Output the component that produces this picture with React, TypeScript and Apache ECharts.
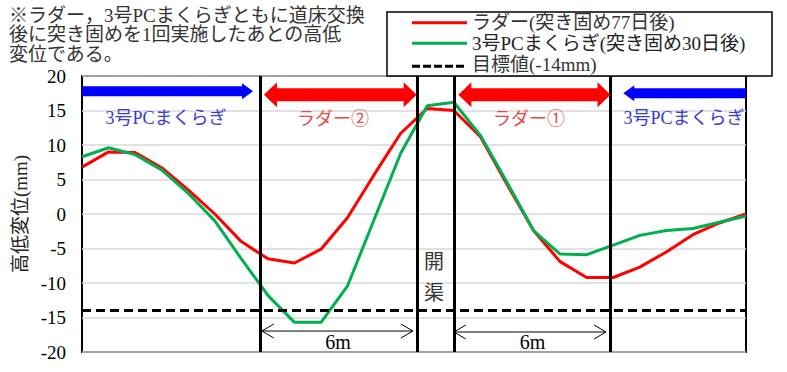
import React, { useEffect, useRef } from "react";
import * as echarts from "echarts";

// Measurement points (index along track), values in mm
const positions = [0, 1, 2, 3, 4, 5, 6, 7, 8, 9, 10, 11, 12, 13, 14, 15, 16, 17, 18, 19, 20, 21, 22, 23, 24, 25];
const ladderValues = [6.8, 9.0, 8.9, 6.7, 3.5, 0.0, -4.0, -6.5, -7.1, -5.1, -0.5, 5.7, 11.7, 15.3, 15.0, 11.2, 4.3, -2.4, -6.9, -9.2, -9.2, -7.7, -5.5, -3.0, -1.3, 0.0];
const pcValues = [8.3, 9.6, 8.6, 6.4, 3.0, -1.0, -6.5, -11.8, -15.7, -15.7, -10.4, -0.8, 8.8, 15.7, 16.2, 11.4, 4.6, -2.4, -5.8, -5.9, -4.5, -3.1, -2.4, -2.1, -1.2, -0.3];
const targetValue = -14;
const yTicks = { min: -20, max: 20, interval: 5 };
const dividerPositions = [6.7, 12.61, 14.01, 19.88];

const seriesNames = ["ラダー(突き固め77日後)", "3号PCまくらぎ(突き固め30日後)", "目標値(-14mm)"];
const yAxisName = "高低変位(mm)";
const noteLines = ["※ラダー，3号PCまくらぎともに道床交換", "後に突き固めを1回実施したあとの高低", "変位である。"];

const FONT = "'Liberation Serif', 'Noto Sans CJK JP', serif";
const RED = "#ff0000";
const GREEN = "#00b050";
const BLUE = "#0000ff";

export default function App() {
  const ref = useRef<HTMLDivElement>(null);
  useEffect(() => {
    const chart = echarts.init(ref.current!, null, { renderer: "svg" });
    const first = positions[0];
    const last = positions[positions.length - 1];
    chart.setOption({
      animation: false,
      grid: { left: 82, top: 76, right: 41, bottom: 20, show: true, borderColor: "#000", borderWidth: 2 },
      xAxis: { type: "value", min: first, max: last, show: false },
      yAxis: {
        type: "value",
        min: yTicks.min,
        max: yTicks.max,
        interval: yTicks.interval,
        axisLine: { show: false },
        axisTick: { show: false },
        axisLabel: { fontSize: 19, fontFamily: FONT, color: "#000", margin: 16 },
        splitLine: { lineStyle: { color: "#d9d9d9", width: 1.5 } },
        name: yAxisName,
        nameLocation: "middle",
        nameGap: 52,
        nameTextStyle: { fontSize: 19, fontFamily: FONT, color: "#222" },
      },
      series: [
        {
          name: seriesNames[0],
          type: "line",
          data: positions.map((p, i) => [p, ladderValues[i]]),
          symbol: "none",
          lineStyle: { color: RED, width: 3 },
          z: 3,
        },
        {
          name: seriesNames[1],
          type: "line",
          data: positions.map((p, i) => [p, pcValues[i]]),
          symbol: "none",
          lineStyle: { color: GREEN, width: 3 },
          z: 4,
        },
        {
          name: seriesNames[2],
          type: "line",
          data: [[first, targetValue], [last, targetValue]],
          symbol: "none",
          lineStyle: { color: "#000", width: 3, type: [9, 5] },
          z: 5,
          markLine: {
            silent: true,
            symbol: ["none", "none"],
            label: { show: false },
            lineStyle: { color: "#000", width: 3, type: "solid" },
            data: dividerPositions.map((x) => ({ xAxis: x })),
          },
        },
      ],
    });

    const P = (x: number, y: number) => chart.convertToPixel({ gridIndex: 0 }, [x, y]) as number[];
    const px = (x: number) => P(x, 0)[0];
    const py = (y: number) => P(0, y)[1];

    const arrowPoly = (x0: number, x1: number, yc: number, bodyH: number, headH: number, headL: number, leftHead: boolean, rightHead: boolean) => {
      const b = bodyH / 2;
      const h = headH / 2;
      const pts: number[][] = [];
      if (leftHead) {
        pts.push([x0, yc], [x0 + headL, yc - h], [x0 + headL, yc - b]);
      } else {
        pts.push([x0, yc - b]);
      }
      if (rightHead) {
        pts.push([x1 - headL, yc - b], [x1 - headL, yc - h], [x1, yc], [x1 - headL, yc + h], [x1 - headL, yc + b]);
      } else {
        pts.push([x1, yc - b], [x1, yc + b]);
      }
      if (leftHead) {
        pts.push([x0 + headL, yc + b], [x0 + headL, yc + h]);
      } else {
        pts.push([x0, yc + b]);
      }
      return pts;
    };

    const text = (t: string, x: number, y: number, size: number, color: string, align = "center") => ({
      type: "text",
      z: 100,
      style: { text: t, x, y, fontSize: size, fontFamily: FONT, fill: color, textAlign: align, textVerticalAlign: "middle" },
    });

    const dimArrow = (xa: number, xb: number, y: number) => {
      const x0 = px(xa), x1 = px(xb), yy = py(y);
      return [
        { type: "line", z: 100, shape: { x1: x0, y1: yy, x2: x1, y2: yy }, style: { stroke: "#000", lineWidth: 1 } },
        { type: "polyline", z: 100, shape: { points: [[x0 + 12, yy - 7], [x0, yy], [x0 + 12, yy + 7]] }, style: { stroke: "#000", lineWidth: 1, fill: null } },
        { type: "polyline", z: 100, shape: { points: [[x1 - 12, yy - 7], [x1, yy], [x1 - 12, yy + 7]] }, style: { stroke: "#000", lineWidth: 1, fill: null } },
      ];
    };

    const graphic: any[] = [
      // Arrows
      { type: "polygon", z: 90, shape: { points: arrowPoly(px(0), px(6.44), py(17.8), 10, 16, 11, false, true) }, style: { fill: BLUE } },
      { type: "polygon", z: 90, shape: { points: arrowPoly(px(6.85), px(12.6), py(17.3), 13, 25, 13, true, true) }, style: { fill: RED } },
      { type: "polygon", z: 90, shape: { points: arrowPoly(px(14.17), px(19.9), py(17.3), 13, 25, 13, true, true) }, style: { fill: RED } },
      { type: "polygon", z: 90, shape: { points: arrowPoly(px(20.38), px(25), py(17.5), 10, 16, 11, true, false) }, style: { fill: BLUE } },
      text("3号PCまくらぎ", px(3.16), py(13.9), 18, "#3a3ad6"),
      text("ラダー②", px(9.45), py(13.7), 18, "#e84848"),
      text("ラダー①", px(16.83), py(13.7), 18, "#e84848"),
      text("3号PCまくらぎ", px(22.67), py(13.9), 18, "#3a3ad6"),
      text("開", px(13.25), py(-6.96), 20, "#333"),
      text("渠", px(13.25), py(-11.45), 20, "#333"),
      ...dimArrow(6.77, 12.46, -16.96),
      ...dimArrow(14.0, 19.73, -17.1),
      text("6m", px(9.64), py(-18.6), 20, "#000"),
      text("6m", px(16.96), py(-18.6), 20, "#000"),
      // Note (three lines)
      text(noteLines[0], 9, 15, 19, "#333", "left"),
      text(noteLines[1], 9, 34.5, 19, "#333", "left"),
      text(noteLines[2], 9, 54, 19, "#333", "left"),
      // Legend box
      { type: "rect", z: 95, shape: { x: 387, y: 12, width: 385, height: 64 }, style: { fill: "#fff", stroke: "#000", lineWidth: 1.5 } },
      { type: "line", z: 100, shape: { x1: 412, y1: 22.7, x2: 467, y2: 22.7 }, style: { stroke: RED, lineWidth: 3 } },
      { type: "line", z: 100, shape: { x1: 412, y1: 43.3, x2: 467, y2: 43.3 }, style: { stroke: GREEN, lineWidth: 3 } },
      { type: "line", z: 100, shape: { x1: 412, y1: 66.3, x2: 467, y2: 66.3 }, style: { stroke: "#000", lineWidth: 3, lineDash: [8, 3] } },
      text(seriesNames[0], 472, 22.5, 19, "#333", "left"),
      text(seriesNames[1], 472, 43.5, 19, "#222", "left"),
      text(seriesNames[2], 472, 64.5, 19, "#333", "left"),
    ];
    chart.setOption({ graphic });
    return () => chart.dispose();
  }, []);
  return <div ref={ref} style={{ position: "absolute", left: 0, top: 0, width: 787, height: 372 }} />;
}
